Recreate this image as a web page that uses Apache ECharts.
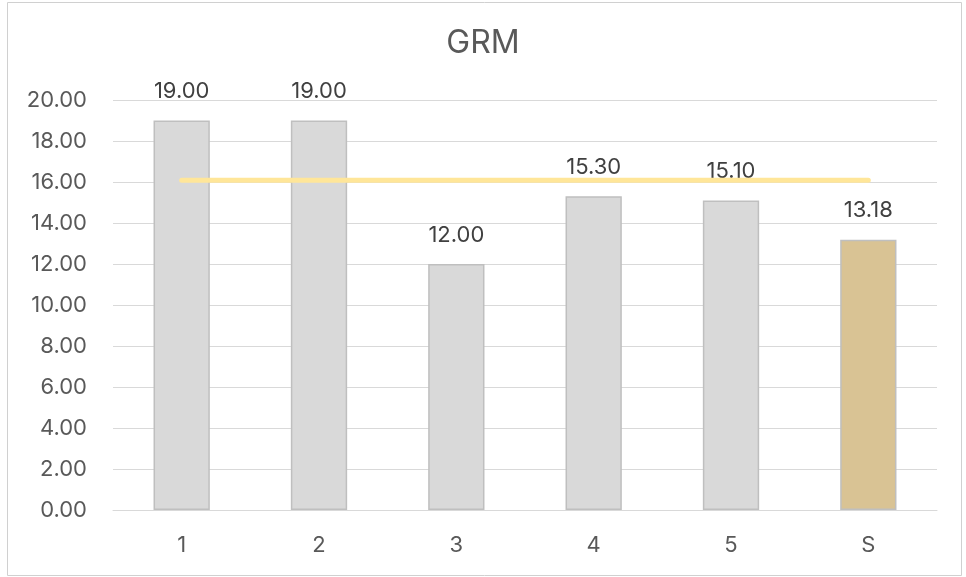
<!DOCTYPE html>
<html>
<head>
<meta charset="utf-8">
<script src="https://cdn.jsdelivr.net/npm/echarts@6/dist/echarts.min.js"></script>
<style>
html,body{margin:0;padding:0;background:#fff;}
#c{width:966px;height:577px;}
</style>
</head>
<body>
<div id="c"></div>
<script>
var categories = ['1', '2', '3', '4', '5', 'S'];
var grmValues = [19.00, 19.00, 12.00, 15.30, 15.10, 13.18];
var averageValues = [16.08, 16.08, 16.08, 16.08, 16.08, 16.08];
var yTicks = {min: 0, max: 20, interval: 2};

var chart = echarts.init(document.getElementById('c'), null, {renderer: 'canvas'});
var txt = '#595959';
var fontFam = 'Inter, "Open Sans", "Noto Sans", sans-serif';
chart.setOption({
  animation: false,
  backgroundColor: '#fff',
  graphic: [{
    type: 'rect', shape: {x: 7.5, y: 2.5, width: 954, height: 573},
    style: {fill: 'none', stroke: '#D0D0D0', lineWidth: 1}, silent: true, z: -1
  }],
  title: {
    text: 'GRM', left: 'center', top: 22,
    textStyle: {color: txt, fontSize: 32, fontWeight: 'normal', fontFamily: fontFam}
  },
  grid: {left: 113, right: 29, top: 100, bottom: 67},
  xAxis: {
    type: 'category', data: categories,
    axisLine: {show: true, lineStyle: {color: '#D9D9D9', width: 1}},
    axisTick: {show: false},
    axisLabel: {color: txt, fontSize: 22, margin: 24, fontFamily: fontFam}
  },
  yAxis: {
    type: 'value', min: yTicks.min, max: yTicks.max, interval: yTicks.interval,
    axisLine: {show: false}, axisTick: {show: false},
    splitLine: {lineStyle: {color: '#D9D9D9', width: 1}},
    axisLabel: {color: txt, fontSize: 22, margin: 26, fontFamily: fontFam,
      formatter: function (v) { return v.toFixed(2); }}
  },
  series: [{
    type: 'bar', data: grmValues.map(function (v, i) {
      return {value: v, itemStyle: {color: categories[i] === 'S' ? '#D9C394' : '#D9D9D9'}};
    }),
    barWidth: '41%',
    itemStyle: {borderColor: '#BFBFBF', borderWidth: 1.5},
    label: {show: true, position: 'top', distance: 18, color: '#404040', fontSize: 22,
      fontFamily: fontFam, formatter: function (p) { return p.value.toFixed(2); }},
    z: 2
  }, {
    type: 'line', data: averageValues, symbol: 'none',
    lineStyle: {color: '#FFE699', width: 5, cap: 'round'},
    z: 3
  }]
});
</script>
</body>
</html>
